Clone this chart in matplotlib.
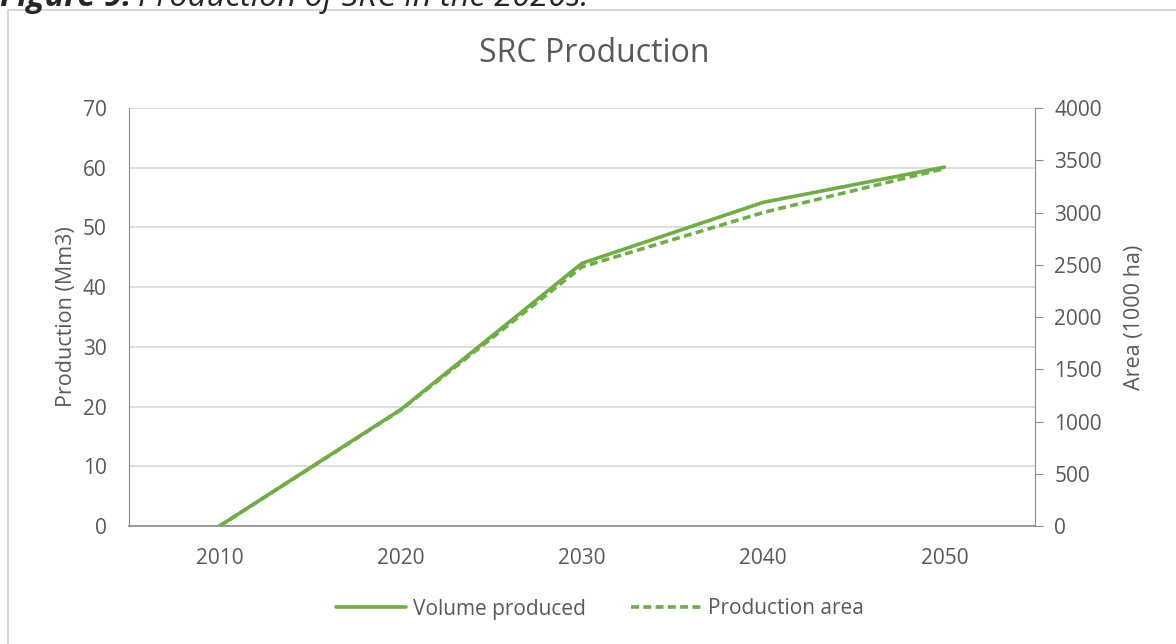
import matplotlib.pyplot as plt
from matplotlib.patches import Rectangle

plt.rcParams['font.family'] = ['Open Sans', 'DejaVu Sans']

years = ['2010', '2020', '2030', '2040', '2050']
volume_produced = [0, 19.5, 44.0, 54.2, 60.1]      # Mm3
production_area = [0, 1110, 2480, 3000, 3420]     # 1000 ha

green = '#70AD47'
text_col = '#595959'
grid_col = '#D9D9D9'
axis_col = '#8C8C8C'

fig = plt.figure(figsize=(11.76, 6.44), dpi=100)
ax = fig.add_axes([129 / 1176, 1 - 526 / 644, (1035 - 129) / 1176, (526 - 108) / 644])
ax2 = ax.twinx()

# chart frame and the caption cut off at the top
fig.patches.append(Rectangle((8 / 1176, -0.01), 1.02, 1 - 10 / 644 + 0.01,
                             transform=fig.transFigure, fill=False,
                             edgecolor='#D0D0D0', linewidth=1.2))
cap1 = fig.text(0.0, 1 - 6 / 644, 'Figure 9:', fontsize=23.5, color='#262626',
                ha='left', va='baseline', style='italic', weight='bold')
fig.canvas.draw()
bb = cap1.get_window_extent()
fig.text(bb.x1 / 1176 + 7 / 1176, 1 - 6 / 644, 'Production of SRC in the 2020s.',
         fontsize=23.5, color='#262626', ha='left', va='baseline', style='italic')

x = range(len(years))
l1, = ax.plot(x, volume_produced, color=green, linewidth=2.6, solid_capstyle='round',
              label='Volume produced', zorder=3)
l2, = ax2.plot(x, production_area, color=green, linewidth=2.6, linestyle=(0, (2.2, 1.2)),
               label='Production area', zorder=3)

ax.set_xlim(-0.5, len(years) - 0.5)
ax.set_xticks(list(x))
ax.set_xticklabels(years)
ax.set_ylim(0, 70)
ax.set_yticks(range(0, 71, 10))
ax2.set_ylim(0, 4000)
ax2.set_yticks(range(0, 4001, 500))

ax.grid(axis='y', color=grid_col, linewidth=1.2)
ax.set_axisbelow(True)

for a in (ax, ax2):
    for s in a.spines.values():
        s.set_visible(False)
ax.spines['left'].set_visible(True)
ax.spines['left'].set_color(axis_col)
ax.spines['bottom'].set_visible(True)
ax.spines['bottom'].set_color(axis_col)
ax.spines['bottom'].set_linewidth(1.2)
ax2.spines['right'].set_visible(True)
ax2.spines['right'].set_color(axis_col)

ax.tick_params(axis='both', length=0, labelsize=15, colors=text_col, pad=16)
ax.tick_params(axis='y', pad=16)
ax2.tick_params(axis='y', length=6, color=axis_col, labelsize=15, labelcolor=text_col, pad=8)

ax.set_ylabel('Production (Mm3)', fontsize=15.5, color=text_col, labelpad=4)
ax2.set_ylabel('Area (1000 ha)', fontsize=15.5, color=text_col, labelpad=16)

fig.text(594 / 1176, 1 - 54 / 644, 'SRC Production', fontsize=23, color=text_col,
         ha='center', va='center')

fig.legend(handles=[l1, l2], loc='center', bbox_to_anchor=(600 / 1176, 1 - 609 / 644),
           ncol=2, frameon=False, fontsize=15, labelcolor=text_col,
           handlelength=3.4, handletextpad=0.3, columnspacing=2.2)

fig.savefig('out.png', dpi=100)
